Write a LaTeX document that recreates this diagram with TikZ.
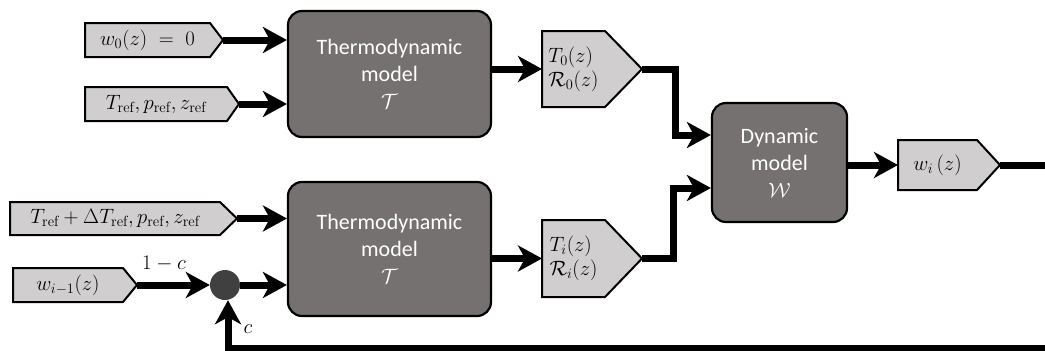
\documentclass[tikz,border=0pt]{standalone}
\usepackage{fontspec}
\newfontfamily\carl{Carlito}
\usetikzlibrary{arrows.meta,calc}
\definecolor{modelgray}{RGB}{118,113,113}
\definecolor{ingray}{RGB}{208,206,206}
\definecolor{dotgray}{RGB}{64,64,64}
\newcommand{\sigbox}[7]{% name, left, top, right, bottom, tipx, content
  \filldraw[sigshape] (#2,#3) -- (#4,#3) -- (#6,{(#3+#5)/2}) coordinate (#1tip) -- (#4,#5) -- (#2,#5) -- cycle;
  \coordinate (#1in) at (#2,{(#3+#5)/2});
  \node[sig] (#1) at ({(#2+#4)/2},{(#3+#5)/2}) {#7};
}
\begin{document}
\begin{tikzpicture}[x=1pt,y=-1pt,
  model/.style={draw=black, line width=2.2pt, fill=modelgray, rounded corners=14pt, text=white,
    font=\carl\fontsize{22}{27}\selectfont, align=center, inner sep=0pt},
  sig/.style={inner sep=0pt, align=left, font=\fontsize{21}{24}\selectfont},
  sigshape/.style={draw=black, line width=2pt, fill=ingray, line join=miter},
  flow/.style={line width=7pt, line join=miter, -{Stealth[length=24pt,width=26pt,inset=7pt]}},
  lab/.style={inner sep=0pt, font=\fontsize{21}{22}\selectfont},
]
\useasboundingbox (0,0) rectangle (1045,351);
\clip (0,0) rectangle (1045,351);

% models
\node[model, minimum width=203pt, minimum height=126pt] (th1) at (389.5,74) {Thermodynamic\\model\\$\mathcal{T}$};
\node[model, minimum width=203pt, minimum height=134pt] (th2) at (389.5,249) {Thermodynamic\\model\\$\mathcal{T}$};
\node[model, minimum width=135pt, minimum height=119pt] (dyn) at (779.5,162.5) {Dynamic\\model\\$\mathcal{W}$};

% signal boxes
\sigbox{w0}{85}{23}{210}{57}{223}{$w_0(z)\;=\;0$}
\sigbox{tref}{85}{87}{227}{121}{239}{$T_{\mathrm{ref}}, p_{\mathrm{ref}}, z_{\mathrm{ref}}$}
\sigbox{tdref}{10}{202}{220}{235}{237}{$T_{\mathrm{ref}}+\Delta T_{\mathrm{ref}}, p_{\mathrm{ref}}, z_{\mathrm{ref}}$}
\sigbox{wim}{13}{268}{123}{302}{137}{$w_{i-1}(z)$}
\sigbox{tz}{542}{31}{605}{107}{642}{$T_0(z)$\\$\mathcal{R}_0(z)$}
\sigbox{ti}{542}{220}{605}{297}{642}{$T_i(z)$\\$\mathcal{R}_i(z)$}
\sigbox{wi}{898}{140}{977}{190}{1000}{$w_i\,(z)$}

% summing point
\node[circle, fill=dotgray, minimum size=30pt, inner sep=0pt] (sum) at (225,285) {};
\node[lab] (l1) at (164,264) {$1-c$};
\node[lab] (lc) at (248,329) {$c$};

% connectors
\draw[flow] (w0tip) -- (th1.west |- w0tip);
\draw[flow] (treftip) -- (th1.west |- treftip);
\draw[flow] (tdreftip) -- (th2.west |- tdreftip);
\draw[flow] (wimtip) -- (sum.west);
\draw[flow] (sum.east) -- (th2.west |- sum.east);
\draw[flow] (th1.east |- tzin) -- (tzin);
\draw[flow] (th2.east |- tiin) -- (tiin);
\draw[flow] (tztip) -- ++(33,0) |- ($(dyn.west)+(0,-27.5)$);
\draw[flow] (titip) -- ++(31,0) |- ($(dyn.west)+(0,25.5)$);
\draw[flow] (dyn.east |- wiin) -- (wiin);
\draw[flow] (witip) -- (1065,165) -- (1065,348) -| ($(sum.south)+(3,0)$);
\end{tikzpicture}
\end{document}
